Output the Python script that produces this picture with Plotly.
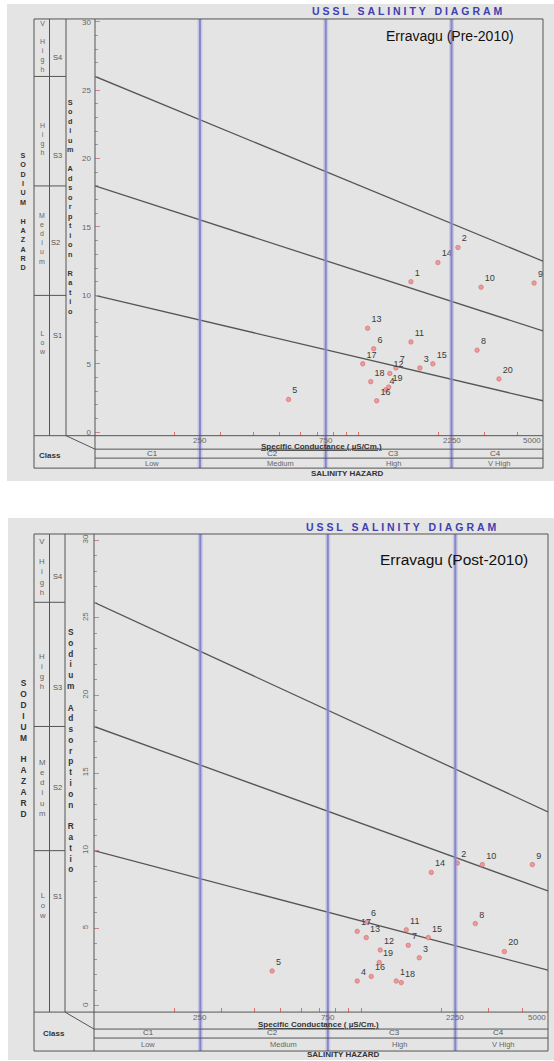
import math
import plotly.graph_objects as go

# ---------------- data ----------------
sample_ids = [str(i) for i in range(1, 21)]

pre_ec = [1578, 2379, 1706, 1267, 542, 1140, 1384, 2812, 4627, 2911,
          1578, 1312, 1081, 1997, 1911, 1170, 1036, 1111, 1300, 3404]
pre_sar = [11.0, 13.5, 4.7, 3.1, 2.4, 6.1, 4.7, 6.0, 10.9, 10.6,
           6.6, 4.3, 7.6, 12.4, 5.0, 2.3, 5.0, 3.7, 3.3, 3.9]

post_ec = [1352, 2290, 1649, 966, 464, 1052, 1500, 2673, 4369, 2839,
           1474, 1178, 1044, 1829, 1782, 1090, 966, 1412, 1168, 3433]
post_sar = [1.6, 9.2, 3.1, 1.6, 2.25, 5.4, 3.9, 5.3, 9.1, 9.1,
            4.9, 3.6, 4.4, 8.6, 4.4, 1.9, 4.8, 1.5, 2.8, 3.5]

boundary_ec = [100, 5000]
boundary_s1_s2 = [10.0, 2.3]
boundary_s2_s3 = [18.0, 7.4]
boundary_s3_s4 = [26.0, 12.5]

salinity_limits = [250, 750, 2250]
ec_ticks = [200, 250, 300, 400, 500, 600, 700, 750, 800, 900, 1000,
            2000, 2250, 3000, 4000, 5000]
ec_labels = [250, 750, 2250, 5000]
salinity_classes = ["C1", "C2", "C3", "C4"]
salinity_names = ["Low", "Medium", "High", "V High"]
sodium_classes = ["S4", "S3", "S2", "S1"]
sodium_names = ["V High", "High", "Medium", "Low"]

# ---------------- geometry (pixels) ----------------
W, H = 554, 1061
def px(x): return x / W
def py(y): return 1 - y / H

FONT = "Liberation Sans, Arial, sans-serif"
GRAY_BG = "#e4e4e4"
FRAME = "#555555"

panels = [
    dict(xa="x", ya="y", name="Erravagu (Pre-2010)",
         ec=pre_ec, sar=pre_sar,
         bg=(7, 3, 554, 481), left=34, col1=49.5, col2=66, axis=95, right=543,
         top=18, base=435.5, row1=449, row2=458, bottom=468,
         yrange=[-0.25, 30.2], tickangle=0, ticky=440,
         ussl=(407, 10, 10.5), title=(450, 35, 14),
         sodium=(23, 211, 7.2), sarlab=(70, 206, 7.3),
         col1txt=[(45.5, 7), (138, 7), (238, 7), (342, 7)],
         slab=[(57, 57), (57, 155), (56, 242), (57, 335)],
         cls=(50, 455), spec=(321, 446), cy=453, ly=463,
         cx=[152, 272, 393, 495], lx=[152, 280, 393, 500], haz=(347, 473)),
    dict(xa="x2", ya="y2", name="Erravagu (Post-2010)",
         ec=post_ec, sar=post_sar,
         bg=(8, 518, 554, 1061), left=34, col1=49.5, col2=65, axis=94, right=548,
         top=534, base=1013, row1=1030, row2=1039, bottom=1052,
         yrange=[-0.4, 30.4], tickangle=-90, ticky=1018,
         ussl=(401, 527, 10.5), title=(454, 560, 15.5),
         sodium=(23, 749, 8.4), sarlab=(70, 751, 8.3),
         col1txt=[(567, 7.8), (672, 7.8), (788, 7.8), (906, 7.8)],
         slab=[(57, 577), (57, 688), (57, 788), (57, 897)],
         cls=(54, 1034), spec=(318, 1025), cy=1033, ly=1045,
         cx=[148, 272, 394, 498], lx=[148, 283, 399, 503], haz=(343, 1055)),
]

NB = "\u00a0"

def stack(word):
    return "<br>".join(ch if ch != " " else NB for ch in word)

def spaced(word):
    return (NB * 3).join(NB.join(w) for w in word.split(" "))

fig = go.Figure()
shapes = []
annotations = []

def line(x0, y0, x1, y1, color=FRAME, width=1, xref="paper", yref="paper", layer="above"):
    shapes.append(dict(type="line", xref=xref, yref=yref, x0=x0, y0=y0, x1=x1, y1=y1,
                       line=dict(color=color, width=width), layer=layer))

def text(t, x, y, size, color="#333333", bold=False, angle=0, underline=False,
         xanchor="center", xref="paper"):
    f = dict(family=FONT, size=size, color=color)
    if bold:
        f["weight"] = "bold"
    if underline:
        f["lineposition"] = "under"
    annotations.append(dict(text=t, x=(px(x) if xref == "paper" else x), y=py(y),
                            xref=xref, yref="paper",
                            showarrow=False, font=f, xanchor=xanchor, yanchor="middle",
                            textangle=angle))

layout_axes = {}
for i, g in enumerate(panels):
    xa, ya = g["xa"], g["ya"]
    xkey = "xaxis" if xa == "x" else "xaxis2"
    ykey = "yaxis" if ya == "y" else "yaxis2"
    layout_axes[xkey] = dict(
        type="log", range=[math.log10(boundary_ec[0]), math.log10(boundary_ec[1])],
        domain=[px(g["axis"]), px(g["right"])], anchor=ya,
        tickmode="array", tickvals=ec_ticks, ticktext=[""] * len(ec_ticks),
        ticks="inside", ticklen=4, tickcolor="#e07070", tickwidth=1,
        showgrid=False, zeroline=False, showline=False)
    layout_axes[ykey] = dict(
        range=g["yrange"], domain=[py(g["base"]), py(g["top"])], anchor=xa,
        tickmode="linear", tick0=0, dtick=5,
        ticks="inside", ticklen=5, tickcolor="#cc8888",
        minor=dict(dtick=1, tick0=0, ticks="inside", ticklen=3, tickcolor="#999999"),
        tickfont=dict(family=FONT, size=8, color="#666666"), tickangle=g["tickangle"],
        showgrid=False, zeroline=False, showline=False, ticklabelstandoff=3)

    # background
    x0, y0, x1, y1 = g["bg"]
    shapes.append(dict(type="rect", xref="paper", yref="paper", x0=px(x0), y0=py(y1),
                       x1=px(x1), y1=py(y0), fillcolor=GRAY_BG, line=dict(width=0), layer="below"))
    # salinity class limits (blue)
    for v in salinity_limits:
        line(v, py(g["top"]), v, py(g["bottom"]), color="rgba(150,150,225,0.35)", width=5, xref=xa)
        line(v, py(g["top"]), v, py(g["bottom"]), color="#8585cc", width=2, xref=xa)
    # frame
    shapes.append(dict(type="rect", xref="paper", yref="paper", x0=px(g["left"]), y0=py(g["bottom"]),
                       x1=px(g["right"]), y1=py(g["top"]), line=dict(color=FRAME, width=1)))
    line(px(g["col1"]), py(g["top"]), px(g["col1"]), py(g["base"]))
    line(px(g["col2"]), py(g["top"]), px(g["col2"]), py(g["base"]))
    line(px(g["axis"]), py(g["top"]), px(g["axis"]), py(g["bottom"]))
    line(px(g["left"]), py(g["base"]), px(g["right"]), py(g["base"]))
    line(px(g["col2"]), py(g["base"]), px(g["axis"]), py(g["row1"]))
    line(px(g["axis"]), py(g["row1"]), px(g["right"]), py(g["row1"]))
    line(px(g["axis"]), py(g["row2"]), px(g["right"]), py(g["row2"]))
    # sodium class boundaries in the left columns
    for b in (boundary_s3_s4, boundary_s2_s3, boundary_s1_s2):
        shapes.append(dict(type="line", xref="paper", yref=ya, x0=px(g["left"]), x1=px(g["col2"]),
                           y0=b[0], y1=b[0], line=dict(color=FRAME, width=1)))

    # boundary lines
    for b in (boundary_s1_s2, boundary_s2_s3, boundary_s3_s4):
        fig.add_trace(go.Scatter(x=boundary_ec, y=b, mode="lines", xaxis=xa, yaxis=ya,
                                 line=dict(color="#555555", width=1.3), hoverinfo="skip",
                                 showlegend=False))
    # samples
    fig.add_trace(go.Scatter(x=g["ec"], y=g["sar"], mode="markers+text", text=sample_ids,
                             textposition="top right", xaxis=xa, yaxis=ya,
                             textfont=dict(family=FONT, size=9, color="#3a3a3a"),
                             marker=dict(size=4.5, color="#ee9a9a", line=dict(color="#d06a6a", width=0.6)),
                             cliponaxis=False, showlegend=False))

    # x tick labels
    for v in ec_labels:
        last = v == ec_labels[-1]
        text(str(v), math.log10(v), g["ticky"], 8, color="#666666",
             xanchor=("right" if last else "center"), xref=xa)

    # texts
    ux, uy, us = g["ussl"]
    text(spaced("USSL SALINITY DIAGRAM"), ux, uy, us, color="#4040b0", bold=True)
    tx, tyy, ts = g["title"]
    text(g["name"], tx, tyy, ts, color="#111111")
    sx, sy, ss = g["sodium"]
    text(stack("SODIUM HAZARD"), sx, sy, ss, color="#333333", bold=True)
    rx, ry, rs = g["sarlab"]
    text(stack("Sodium Adsorption Ratio"), rx, ry, rs, color="#333333", bold=True)
    for (cy, cs), nm in zip(g["col1txt"], sodium_names):
        text(stack(nm), (g["left"] + g["col1"]) / 2 + 0.5, cy, cs, color="#666666")
    for (sx_, sy_), nm in zip(g["slab"], sodium_classes):
        text(nm, sx_, sy_, 7.5, color="#555555")
    text("Class", g["cls"][0], g["cls"][1], 8, color="#333333", bold=True)
    text("Specific Conductance ( µS/Cm.)", g["spec"][0], g["spec"][1], 8, color="#333333",
         bold=True, underline=True)
    for x_, nm in zip(g["cx"], salinity_classes):
        text(nm, x_, g["cy"], 8, color="#555555")
    for x_, nm in zip(g["lx"], salinity_names):
        text(nm, x_, g["ly"], 7.5, color="#666666")
    text("SALINITY HAZARD", g["haz"][0], g["haz"][1], 8, color="#333333", bold=True)

fig.update_layout(
    width=W, height=H, margin=dict(l=0, r=0, t=0, b=0),
    paper_bgcolor="white", plot_bgcolor="rgba(0,0,0,0)",
    showlegend=False, shapes=shapes, annotations=annotations,
    **layout_axes)

fig.write_html("out.html", config={"displayModeBar": False},
               post_script="document.body.style.margin='0';document.body.style.overflow='hidden';")
